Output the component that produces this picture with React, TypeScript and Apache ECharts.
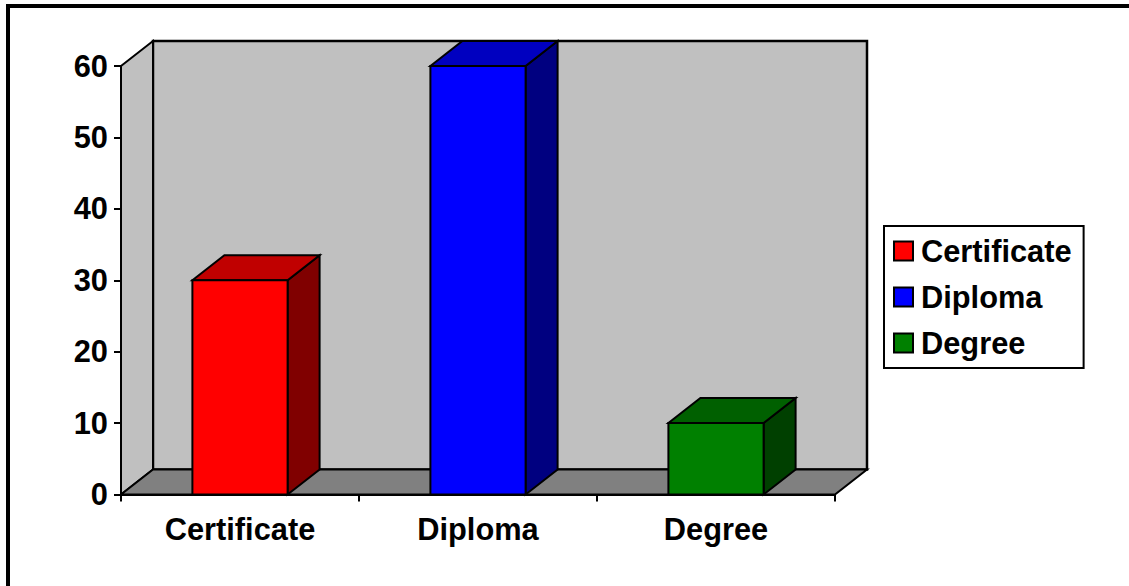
import React, { useEffect, useRef } from "react";
import * as echarts from "echarts";

const categories = ["Certificate", "Diploma", "Degree"];
const values = [30, 60, 10];
const faceColors = ["#ff0000", "#0000ff", "#008000"];
const topColors = ["#c00000", "#0000c0", "#006000"];
const sideColors = ["#800000", "#000080", "#004000"];
const yTicks = { min: 0, max: 60, interval: 10 };
const depthX = 32;
const depthY = -25;
const font = "'Liberation Sans', Arial, sans-serif";
const edge = { stroke: "#000", lineWidth: 2, lineJoin: "miter" as const };

const poly = (points: number[][], fill: string, lineWidth = 2) => ({
  type: "polygon",
  shape: { points },
  style: { ...edge, lineWidth, fill },
});

const wallRender = (params: any) => {
  const c = params.coordSys;
  const l = c.x, r = c.x + c.width, t = c.y, b = c.y + c.height;
  const dx = depthX, dy = depthY;
  return {
    type: "group",
    children: [
      poly([[l + dx, t + dy], [r + dx, t + dy], [r + dx, b + dy], [l + dx, b + dy]], "#c0c0c0", 2.5),
      poly([[l, t], [l + dx, t + dy], [l + dx, b + dy], [l, b]], "#c0c0c0", 2),
      poly([[l, b], [l + dx, b + dy], [r + dx, b + dy], [r, b]], "#808080", 2),
    ],
  };
};

const boxRender = (idx: number) => (_params: any, api: any) => {
  const cat = api.value(0);
  const val = api.value(1);
  const top = api.coord([cat, val]);
  const bottom = api.coord([cat, 0]);
  const band = api.size([1, 0])[0];
  const w = band * 0.4;
  const l = top[0] - w / 2;
  const r = top[0] + w / 2;
  const t = top[1];
  const b = bottom[1];
  return {
    type: "group",
    children: [
      poly([[r, t], [r + depthX, t + depthY], [r + depthX, b + depthY], [r, b]], sideColors[idx]),
      poly([[l, t], [l + depthX, t + depthY], [r + depthX, t + depthY], [r, t]], topColors[idx]),
      poly([[l, t], [r, t], [r, b], [l, b]], faceColors[idx]),
    ],
  };
};

export default function App() {
  const ref = useRef<HTMLDivElement>(null);
  useEffect(() => {
    document.body.style.margin = "0";
    const chart = echarts.init(ref.current!, undefined, { renderer: "svg" });
    chart.setOption({
      animation: false,
      backgroundColor: "#fff",
      textStyle: { fontFamily: font },
      grid: { left: 121, top: 66, width: 714, height: 428.5 },
      xAxis: {
        type: "category",
        data: categories,
        axisLine: { show: true, lineStyle: { color: "#000", width: 2 } },
        axisTick: { show: true, alignWithLabel: false, length: 7, lineStyle: { color: "#000", width: 2 } },
        axisLabel: { color: "#000", fontSize: 30.8, fontWeight: "bold", fontFamily: font, margin: 19 },
        splitLine: { show: false },
      },
      yAxis: {
        type: "value",
        ...yTicks,
        axisLine: { show: true, lineStyle: { color: "#000", width: 2 } },
        axisTick: { show: true, length: 7, lineStyle: { color: "#000", width: 2 } },
        axisLabel: { color: "#000", fontSize: 30.8, fontWeight: "bold", fontFamily: font, margin: 13 },
        splitLine: { show: false },
      },
      legend: {
        left: 884,
        top: 226,
        orient: "vertical",
        data: categories,
        icon: "rect",
        itemWidth: 19,
        itemHeight: 19,
        itemGap: 14,
        padding: [9, 12, 9, 9],
        backgroundColor: "#fff",
        borderColor: "#000",
        borderWidth: 2,
        itemStyle: { borderColor: "#000", borderWidth: 2 },
        textStyle: { color: "#000", fontSize: 30.8, lineHeight: 32, fontWeight: "bold", fontFamily: font, padding: [0, 0, 0, 3] },
        selectedMode: false,
      },
      tooltip: { show: false },
      graphic: [
        {
          type: "polyline",
          silent: true,
          z: 100,
          shape: { points: [[8, 586], [8, 6], [1129, 6]] },
          style: { stroke: "#000", fill: "none", lineWidth: 4 },
        },
      ],
      series: [
        {
          type: "custom",
          name: "walls",
          silent: true,
          z: 1,
          renderItem: wallRender,
          data: [[0, 0]],
          clip: false,
        },
        ...categories.map((name, i) => ({
          type: "custom",
          name,
          z: 2,
          itemStyle: { color: faceColors[i] },
          renderItem: boxRender(i),
          encode: { x: 0, y: 1 },
          data: [[i, values[i]]],
          clip: false,
        })),
      ],
    });
    return () => chart.dispose();
  }, []);
  return <div ref={ref} style={{ width: 1129, height: 586 }} />;
}
